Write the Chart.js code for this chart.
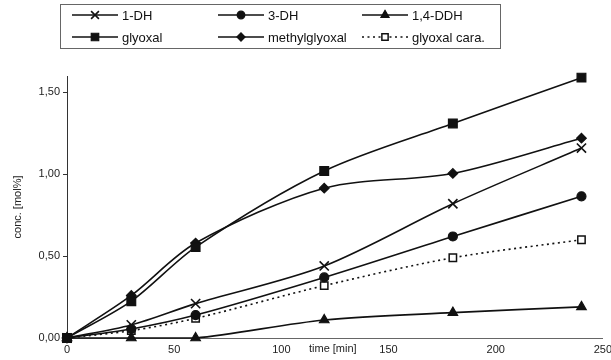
<!DOCTYPE html>
<html>
<head>
<meta charset="utf-8">
<script src="https://cdn.jsdelivr.net/npm/chart.js@4/dist/chart.umd.min.js"></script>
<style>
  html, body { margin: 0; padding: 0; background: #fff; }
  #wrap { width: 611px; height: 360px; }
</style>
</head>
<body>
<div id="wrap"><canvas id="chart"></canvas></div>
<script>
const times = [0, 30, 60, 120, 180, 240];
const dh1 = [0, 0.08, 0.21, 0.44, 0.82, 1.16];
const dh3 = [0, 0.055, 0.14, 0.37, 0.62, 0.865];
const ddh14 = [0, 0, 0, 0.11, 0.155, 0.19];
const glyoxal = [0, 0.225, 0.555, 1.02, 1.31, 1.59];
const methylglyoxal = [0, 0.26, 0.58, 0.915, 1.005, 1.22];
const glyoxalCara = [0, 0.045, 0.12, 0.32, 0.49, 0.60];
const xTicks = [0, 50, 100, 150, 200, 250];
const yTicks = [0, 0.5, 1, 1.5];

Chart.defaults.font.family = "'Liberation Sans', Arial, sans-serif";
Chart.defaults.color = '#222';

const black = '#111';

function series(label, values, style, radius, extra) {
    return Object.assign({
        label: label,
        data: times.map((t, i) => ({ x: t, y: values[i] })),
        borderColor: black,
        backgroundColor: black,
        pointBackgroundColor: black,
        pointBorderColor: black,
        borderWidth: 1.6,
        pointStyle: style,
        pointRadius: radius,
        pointHoverRadius: radius,
        pointBorderWidth: 1.2,
        tension: 0.3,
        clip: false
    }, extra || {});
}

const datasets = [
    series('1-DH', dh1, 'crossRot', 6.5, { pointBorderWidth: 1.6 }),
    series('3-DH', dh3, 'circle', 4.5),
    series('1,4-DDH', ddh14, 'triangle', 5.5),
    series('glyoxal', glyoxal, 'rect', 6.2),
    series('methylglyoxal', methylglyoxal, 'rectRot', 4.8),
    series('glyoxal cara.', glyoxalCara, 'rect', 5.2, {
        borderDash: [2, 3.5],
        borderWidth: 1.6,
        pointBackgroundColor: '#fff',
        pointBorderWidth: 1.5
    })
];

// legend box drawn on top, 3 columns x 2 rows with line samples
const legendPlugin = {
    id: 'boxLegend',
    afterDraw(chart) {
        const ctx = chart.ctx;
        ctx.save();
        ctx.strokeStyle = '#666';
        ctx.lineWidth = 1;
        ctx.strokeRect(60.5, 4.5, 440, 44);
        const colX = [72, 218, 362];
        const rowY = [15, 37];
        chart.data.datasets.forEach((ds, i) => {
            const x = colX[i % 3];
            const y = rowY[Math.floor(i / 3)];
            ctx.strokeStyle = black;
            ctx.lineWidth = ds.borderWidth;
            ctx.setLineDash(ds.borderDash || []);
            ctx.beginPath();
            ctx.moveTo(x, y);
            ctx.lineTo(x + 46, y);
            ctx.stroke();
            ctx.setLineDash([]);
            ctx.fillStyle = ds.pointBackgroundColor;
            ctx.strokeStyle = black;
            ctx.lineWidth = ds.pointBorderWidth;
            Chart.helpers.drawPoint(ctx, {
                pointStyle: ds.pointStyle,
                radius: ds.pointRadius * 0.85,
                rotation: 0,
                borderWidth: ds.pointBorderWidth
            }, x + 23, y);
            ctx.fillStyle = '#111';
            ctx.font = "13px 'Liberation Sans', Arial, sans-serif";
            ctx.textBaseline = 'middle';
            ctx.textAlign = 'left';
            ctx.fillText(ds.label, x + 50, y + 1);
        });
        ctx.restore();
    }
};

// axis title placed on the tick label row, between 100 and 150
const timeTitle = {
    id: 'timeTitle',
    afterDraw(chart) {
        const xs = chart.scales.x;
        const ctx = chart.ctx;
        ctx.save();
        ctx.fillStyle = '#222';
        ctx.font = "11px 'Liberation Sans', Arial, sans-serif";
        ctx.textAlign = 'center';
        ctx.textBaseline = 'middle';
        ctx.fillText('time [min]', xs.getPixelForValue(124), 349);
        ctx.restore();
    }
};

new Chart(document.getElementById('chart'), {
    type: 'line',
    data: { datasets: datasets },
    plugins: [legendPlugin, timeTitle],
    options: {
        responsive: true,
        maintainAspectRatio: false,
        animation: false,
        events: [],
        layout: { padding: { top: 76, left: 0, right: 2, bottom: 0 } },
        plugins: {
            legend: { display: false },
            tooltip: { enabled: false }
        },
        scales: {
            x: {
                type: 'linear',
                min: 0,
                max: 250,
                afterBuildTicks: (scale) => { scale.ticks = xTicks.map(v => ({ value: v })); },
                afterFit: (scale) => { scale.height = 22; scale.paddingLeft = 0; scale.paddingRight = 0; },
                grid: { display: true, drawOnChartArea: false, drawTicks: false },
                border: { display: true, color: '#666', width: 1 },
                ticks: {
                    padding: 5,
                    maxRotation: 0,
                    font: { size: 11 },
                    callback: (v) => String(v)
                }
            },
            y: {
                min: 0,
                max: 1.6,
                afterBuildTicks: (scale) => { scale.ticks = yTicks.map(v => ({ value: v })); },
                afterFit: (scale) => { scale.width = 67; scale.paddingTop = 0; scale.paddingBottom = 0; },
                grid: { display: true, drawOnChartArea: false, drawTicks: true, tickLength: 4, color: '#333' },
                border: { display: true, color: '#333', width: 1 },
                title: {
                    display: true,
                    text: 'conc. [mol%]',
                    font: { size: 11 },
                    padding: { top: 11, bottom: 0 }
                },
                ticks: {
                    padding: 3,
                    font: { size: 11 },
                    callback: (v) => v.toFixed(2).replace('.', ',')
                }
            }
        }
    }
});
</script>
</body>
</html>
